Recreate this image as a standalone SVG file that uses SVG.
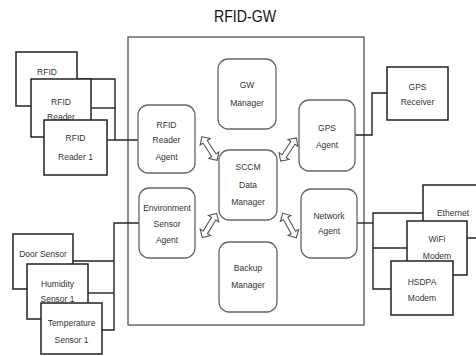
<svg xmlns="http://www.w3.org/2000/svg" width="476" height="356" viewBox="0 0 476 356">
<defs>
<style>
.t{font-family:"Liberation Sans",Arial,sans-serif;font-size:8.5px;fill:#333;text-anchor:middle}
.title{font-family:"Liberation Sans",Arial,sans-serif;font-size:17px;fill:#111;text-anchor:middle}
.main{fill:#fff;stroke:#444;stroke-width:1.2}
.mod{fill:#fff;stroke:#666;stroke-width:1.3}
.ext{fill:#fff;stroke:#222;stroke-width:1.5}
.c{fill:none;stroke:#222;stroke-width:1.4}
.arr{fill:#fff;stroke:#555;stroke-width:1.1}
</style>
<polygon id="dbl" points="-14,0 -8,-6 -8,-2.5 8,-2.5 8,-6 14,0 8,6 8,2.5 -8,2.5 -8,6"/>
</defs>
<rect width="476" height="356" fill="#fff"/>
<text class="title" x="245" y="22" textLength="62" lengthAdjust="spacingAndGlyphs">RFID-GW</text>
<rect class="main" x="128" y="37" width="236" height="288"/>
<g id="connectors">
<polyline class="c" points="77,79 115,79 115,140 138,140"/>
<line class="c" x1="91" y1="108" x2="115" y2="108"/>
<line class="c" x1="107" y1="140" x2="115" y2="140"/>
<polyline class="c" points="355,135 372,135 372,93 387,93"/>
<polyline class="c" points="139,223 114,223 114,330 102,330"/>
<line class="c" x1="73" y1="261" x2="114" y2="261"/>
<line class="c" x1="88" y1="293" x2="114" y2="293"/>
<line class="c" x1="357" y1="223" x2="373" y2="223"/>
<polyline class="c" points="423,213 373,213 373,289 391,289"/>
<line class="c" x1="373" y1="248" x2="407" y2="248"/>
<use href="#dbl" class="arr" transform="translate(209.5,148.5) rotate(57)"/>
<use href="#dbl" class="arr" transform="translate(288.5,149.5) rotate(-56)"/>
<use href="#dbl" class="arr" transform="translate(209.5,225.5) rotate(-59)"/>
<use href="#dbl" class="arr" transform="translate(289.5,225.5) rotate(61)"/>
</g>
<g id="rfid-reader-agent"><rect class="mod" x="138" y="105" width="57" height="68" rx="10"/>
<text class="t" x="166.5" y="128">RFID</text><text class="t" x="166.5" y="143">Reader</text><text class="t" x="166.5" y="160">Agent</text></g>
<g id="gw-manager"><rect class="mod" x="218" y="59" width="58" height="70" rx="10"/>
<text class="t" x="247" y="88">GW</text><text class="t" x="247" y="106">Manager</text></g>
<g id="gps-agent"><rect class="mod" x="299" y="100" width="56" height="71" rx="10"/>
<text class="t" x="327" y="131">GPS</text><text class="t" x="327" y="148">Agent</text></g>
<g id="sccm-data-manager"><rect class="mod" x="219" y="150" width="58" height="70" rx="10"/>
<text class="t" x="248" y="170">SCCM</text><text class="t" x="248" y="188">Data</text><text class="t" x="248" y="205">Manager</text></g>
<g id="environment-sensor-agent"><rect class="mod" x="139" y="188" width="56" height="70" rx="10"/>
<text class="t" x="167" y="211">Environment</text><text class="t" x="167" y="227">Sensor</text><text class="t" x="167" y="243">Agent</text></g>
<g id="network-agent"><rect class="mod" x="301" y="189" width="56" height="69" rx="10"/>
<text class="t" x="329" y="219">Network</text><text class="t" x="329" y="234">Agent</text></g>
<g id="backup-manager"><rect class="mod" x="219" y="242" width="58" height="70" rx="10"/>
<text class="t" x="248" y="271">Backup</text><text class="t" x="248" y="288">Manager</text></g>
<g id="rfid"><rect class="ext" x="16" y="52" width="61" height="54"/>
<text class="t" x="47" y="75">RFID</text></g>
<g id="rfid-reader"><rect class="ext" x="31" y="79" width="60" height="58"/>
<text class="t" x="61" y="105">RFID</text><text class="t" x="61" y="120">Reader</text></g>
<g id="rfid-reader-1"><rect class="ext" x="44" y="120" width="63" height="55"/>
<text class="t" x="75.5" y="141">RFID</text><text class="t" x="75.5" y="160">Reader 1</text></g>
<g id="gps-receiver"><rect class="ext" x="387" y="67" width="61" height="53"/>
<text class="t" x="417.5" y="90">GPS</text><text class="t" x="417.5" y="105">Receiver</text></g>
<g id="door-sensor"><rect class="ext" x="13" y="234" width="60" height="55"/>
<text class="t" x="43" y="257">Door Sensor</text></g>
<g id="humidity-sensor-1"><rect class="ext" x="27" y="264" width="61" height="55"/>
<text class="t" x="57.5" y="287">Humidity</text><text class="t" x="57.5" y="302">Sensor 1</text></g>
<g id="temperature-sensor-1"><rect class="ext" x="41" y="303" width="61" height="51"/>
<text class="t" x="71.5" y="326">Temperature</text><text class="t" x="71.5" y="343">Sensor 1</text></g>
<g id="ethernet"><rect class="ext" x="423" y="185" width="60" height="53"/>
<text class="t" x="453" y="216">Ethernet</text></g>
<g id="wifi-modem"><rect class="ext" x="407" y="221" width="60" height="54"/>
<text class="t" x="437" y="242">WiFi</text><text class="t" x="437" y="259">Modem</text></g>
<g id="hsdpa-modem"><rect class="ext" x="391" y="261" width="62" height="54"/>
<text class="t" x="422" y="285">HSDPA</text><text class="t" x="422" y="301">Modem</text></g>
</svg>
